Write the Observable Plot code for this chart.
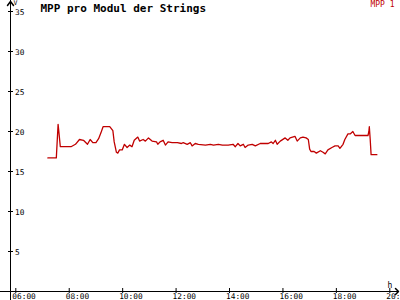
<!DOCTYPE html>
<html><head><meta charset="utf-8">
<script src="https://cdn.jsdelivr.net/npm/d3@7"></script>
<script src="https://cdn.jsdelivr.net/npm/@observablehq/plot@0.6"></script>
<style>body{margin:0;background:#fff} svg{display:block}</style>
</head><body><div id="chart"></div>
<script>
const title = "MPP pro Modul der Strings";
const seriesName = "MPP 1";
const yUnit = "V";
const xUnit = "h";
const yTicks = [5, 10, 15, 20, 25, 30, 35];
const xTicks = [6, 8, 10, 12, 14, 16, 18, 20];
const xTickLabels = ["06:00", "08:00", "10:00", "12:00", "14:00", "16:00", "18:00", "20:00"];
const times = [
  "07:12","07:31","07:35","07:37","07:40","08:04","08:14","08:23","08:32","08:41",
  "08:47","08:53","09:00","09:06","09:11","09:16","09:31","09:38","09:41","09:46",
  "09:49","09:53","09:59","10:04","10:10","10:16","10:21","10:26","10:34","10:38",
  "10:46","10:51","10:58","11:06","11:16","11:19","11:24","11:31","11:36","11:42",
  "11:51","12:03","12:12","12:16","12:25","12:32","12:36","12:43","12:50","13:06",
  "13:17","13:24","13:35","13:44","13:57","14:08","14:13","14:19","14:24","14:31",
  "14:35","14:42","14:51","14:58","15:09","15:27","15:34","15:38","15:43","15:47",
  "15:54","16:05","16:11","16:16","16:27","16:32","16:39","16:45","16:52","16:57",
  "17:00","17:03","17:10","17:15","17:24","17:30","17:35","17:41","17:50","17:57",
  "18:04","18:08","18:15","18:19","18:26","18:31","18:37","18:42","19:11","19:13",
  "19:14","19:16","19:18","19:31"
];
const values = [
  16.7,16.7,20.9,19.8,18.1,18.1,18.4,19.0,18.9,18.4,
  19.0,18.6,18.6,19.1,19.8,20.6,20.6,20.1,18.7,17.4,
  17.3,17.7,17.7,18.4,18.0,18.3,18.1,18.9,19.3,18.8,
  19.0,18.8,19.2,18.8,18.7,18.4,18.7,18.9,18.3,18.7,
  18.6,18.6,18.5,18.6,18.4,18.6,18.2,18.5,18.4,18.3,
  18.4,18.3,18.4,18.3,18.3,18.4,18.1,18.5,18.2,18.4,
  18.0,18.3,18.4,18.2,18.5,18.5,18.7,18.5,18.9,18.4,
  18.8,19.2,18.9,19.2,19.4,18.8,19.2,19.3,19.2,19.0,
  17.8,17.5,17.5,17.3,17.6,17.4,17.2,17.7,18.0,18.2,
  18.2,17.9,18.4,19.0,19.7,19.7,20.0,19.5,19.5,20.0,
  20.6,19.0,17.1,17.1
];

const toHours = s => { const [h, m] = s.split(":").map(Number); return h + m / 60; };
const data = times.map((t, i) => ({t: toHours(t), v: values[i]}));

const W = 400, H = 300, ML = 10, MR = 2, MT = 0, MB = 9;
const font = "DejaVu Sans Mono";
const chevronUp = {draw(ctx) { ctx.moveTo(-3, 4); ctx.lineTo(0, 0); ctx.lineTo(3, 4); }};
const chevronRight = {draw(ctx) { ctx.moveTo(-3, -3); ctx.lineTo(0, 0); ctx.lineTo(-3, 3); }};

const chart = Plot.plot({
  width: W, height: H,
  marginLeft: ML, marginRight: MR, marginTop: MT, marginBottom: MB,
  style: {background: "#fff", fontFamily: font, color: "#000"},
  x: {domain: [6, 20], range: [15.3, 389.3], axis: null},
  y: {domain: [0, 35], range: [291, 11], axis: null},
  marks: [
    Plot.frame({anchor: "left", insetBottom: -9, stroke: "#000"}),
    Plot.frame({anchor: "bottom", insetLeft: -10, stroke: "#000"}),
    Plot.vector([0], {frameAnchor: "top-left", dy: 1, anchor: "start", shape: chevronUp, stroke: "#000", length: 1}),
    Plot.vector([0], {frameAnchor: "bottom-right", anchor: "start", shape: chevronRight, stroke: "#000", length: 1}),
    Plot.tickY(yTicks, {y: d => d, insetLeft: -2, insetRight: W - ML - MR - 3, stroke: "#000"}),
    Plot.tickX(xTicks, {x: d => d, insetTop: H - MB - MT - 3, insetBottom: -2, stroke: "#000"}),
    Plot.text(yTicks, {y: d => d, text: d => String(d), frameAnchor: "left", dx: 4.5, dy: 0.5, textAnchor: "start", fontSize: 7.8, fill: "#000"}),
    Plot.text(xTicks, {x: d => d, text: (d, i) => xTickLabels[i], frameAnchor: "bottom", lineAnchor: "top", dy: 2, dx: -3.5, textAnchor: "start", fontSize: 7.8, fill: "#000"}),
    Plot.text([yUnit], {frameAnchor: "top-left", text: d => d, dx: 3, dy: 0, lineAnchor: "top", textAnchor: "start", fontSize: 6.5, fill: "#000"}),
    Plot.text([xUnit], {frameAnchor: "bottom-right", text: d => d, dx: -11, dy: -4, lineAnchor: "bottom", textAnchor: "start", fontSize: 8, fill: "#000"}),
    Plot.text([title], {frameAnchor: "top-left", text: d => d, dx: 30, dy: 4, lineAnchor: "top", textAnchor: "start", fontSize: 11, fontWeight: "bold", fill: "#000", style: "letter-spacing:0.6px"}),
    Plot.text([seriesName], {frameAnchor: "top-right", text: d => d, dx: -4, dy: 1, lineAnchor: "top", textAnchor: "end", fontSize: 8, fill: "#c00000"}),
    Plot.line(data, {x: "t", y: "v", stroke: "#c00000", strokeWidth: 1.3})
  ]
});
document.getElementById("chart").append(chart);
</script>
</body></html>
